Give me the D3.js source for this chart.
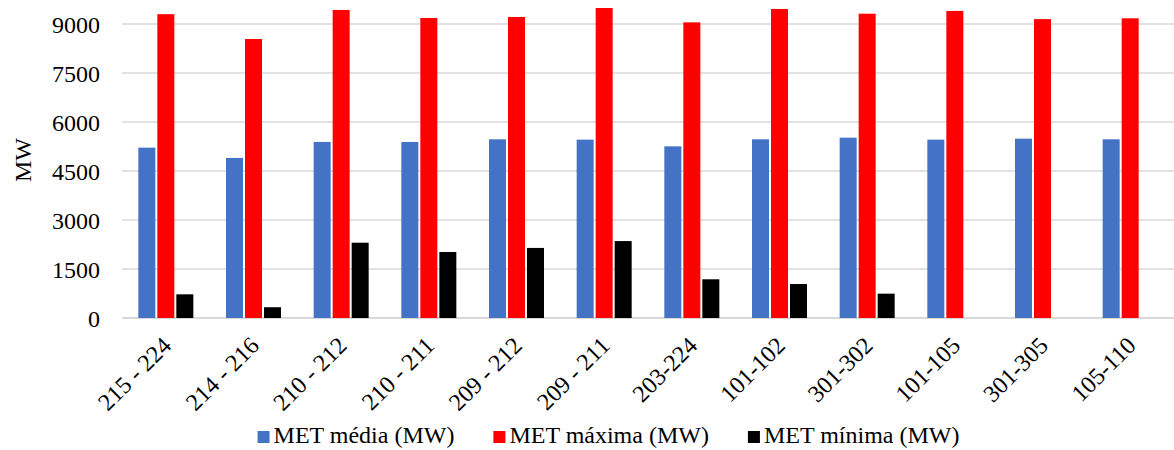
<!DOCTYPE html>
<html>
<head>
<meta charset="utf-8">
<script src="https://cdn.jsdelivr.net/npm/d3@7"></script>
<style>
  html, body { margin: 0; padding: 0; background: #fff; }
  svg, svg text { font-family: "Liberation Serif", "Times New Roman", serif; }
</style>
</head>
<body>
<svg id="chart" width="1174" height="450"></svg>
<script>
// Transmission limits per interconnection (MW)
const categories = ["215 - 224", "214 - 216", "210 - 212", "210 - 211", "209 - 212", "209 - 211",
                    "203-224", "101-102", "301-302", "101-105", "301-305", "105-110"];
const seriesNames = ["MET média (MW)", "MET máxima (MW)", "MET mínima (MW)"];
const metMedia  = [5215, 4900, 5390, 5390, 5470, 5460, 5255, 5470, 5520, 5460, 5490, 5470];
const metMaxima = [9300, 8540, 9430, 9185, 9215, 9490, 9050, 9460, 9315, 9400, 9150, 9175];
const metMinima = [725, 330, 2305, 2020, 2145, 2355, 1185, 1040, 745, null, null, null];
const yTicks = [0, 1500, 3000, 4500, 6000, 7500, 9000];
const colors = ["#4472C4", "#FF0000", "#000000"];

const svg = d3.select("#chart");
const plot = { left: 122, right: 1174, top: 24, bottom: 318 };

const x0 = d3.scaleBand().domain(categories).range([plot.left, plot.right]).padding(0);
const groupWidth = 55;
const x1 = d3.scaleBand().domain(seriesNames).range([0, groupWidth]).paddingInner(2 / 19).paddingOuter(0);
const y = d3.scaleLinear().domain([0, 9000]).range([plot.bottom, plot.top]);

// Horizontal gridlines
svg.append("g")
  .selectAll("line")
  .data(yTicks)
  .join("line")
  .attr("x1", plot.left).attr("x2", plot.right)
  .attr("y1", d => y(d)).attr("y2", d => y(d))
  .attr("stroke", "#d9d9d9")
  .attr("stroke-width", d => d === 0 ? 2 : 1.5);

// Y axis labels
const yAxis = d3.axisLeft(y).tickValues(yTicks).tickSize(0).tickPadding(0).tickFormat(d3.format("d"));
svg.append("g")
  .attr("transform", "translate(100,0)")
  .call(yAxis)
  .attr("font-family", null)
  .attr("font-size", 24)
  .call(g => g.select(".domain").remove())
  .call(g => g.selectAll("text")
    .attr("fill", "#000")
    .attr("dy", "0.34em"));

// Y axis title
svg.append("text")
  .attr("transform", "translate(31,160) rotate(-90)")
  .attr("text-anchor", "middle")
  .attr("font-size", 24)
  .attr("fill", "#000")
  .text("MW");

// Bars
const rows = categories.map((c, i) => ({
  cat: c,
  values: [metMedia[i], metMaxima[i], metMinima[i]]
}));

const groups = svg.append("g")
  .selectAll("g")
  .data(rows)
  .join("g")
  .attr("transform", d => `translate(${x0(d.cat) + (x0.bandwidth() - groupWidth) / 2},0)`);

groups.selectAll("rect")
  .data(d => d.values.map((v, k) => ({ name: seriesNames[k], value: v, k })).filter(e => e.value != null))
  .join("rect")
  .attr("x", e => x1(e.name))
  .attr("width", x1.bandwidth())
  .attr("y", e => y(e.value))
  .attr("height", e => y(0) - y(e.value))
  .attr("fill", e => colors[e.k]);

// X axis labels, rotated
const xAxis = d3.axisBottom(x0).tickSize(0).tickPadding(0);
svg.append("g")
  .attr("transform", `translate(0,${plot.bottom})`)
  .call(xAxis)
  .attr("font-family", null)
  .attr("font-size", 24)
  .call(g => g.select(".domain").remove())
  .call(g => g.selectAll("text")
    .attr("fill", "#000")
    .attr("text-anchor", "end")
    .attr("dy", null)
    .attr("y", null)
    .attr("transform", "translate(7,29) rotate(-45)"));

// Legend
const legend = svg.append("g");
let lx = 0;
seriesNames.forEach((name, k) => {
  const item = legend.append("g").attr("transform", `translate(${lx},0)`);
  item.append("rect").attr("x", 0).attr("y", -12).attr("width", 12).attr("height", 12).attr("fill", colors[k]);
  const t = item.append("text").attr("x", 16).attr("y", 0).attr("font-size", 24).attr("fill", "#000").text(name);
  lx += 16 + t.node().getComputedTextLength() + 39;
});
const legendWidth = lx - 39;
legend.attr("transform", `translate(${608.5 - legendWidth / 2},443)`);
</script>
</body>
</html>
